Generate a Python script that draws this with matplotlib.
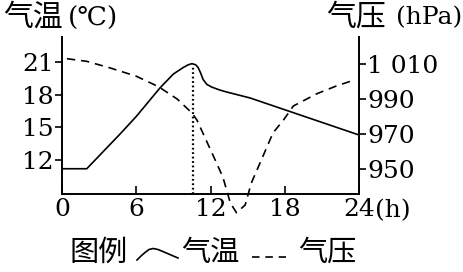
import matplotlib
import matplotlib.pyplot as plt
from matplotlib.lines import Line2D

matplotlib.use('Agg')

# temperature (left axis, deg C)
temp_hours = [0, 2, 4.7, 6, 7.9, 9, 9.8, 10.2, 10.5, 10.8, 11.0, 11.2, 11.4, 11.7, 12.1, 12.7, 13.3, 15.2, 24]
temp_vals = [11.2, 11.2, 14.4, 16.0, 18.6, 19.9, 20.5, 20.75, 20.85, 20.75, 20.5, 20.0, 19.4, 18.95, 18.7, 18.45, 18.25, 17.7, 14.3]

# pressure (right axis, hPa)
pres_hours = [0.4, 2.0, 3.9, 6.0, 7.8, 9.3, 10.5, 10.9, 12.0, 13.0, 13.6, 14.1, 14.8, 15.3, 16.1, 17.05, 17.9, 18.7, 20.6, 22.2, 23.7]
pres_vals = [1013, 1011.5, 1007.7, 1003, 997, 990, 982, 978, 961, 945.4, 930.6, 925, 929.4, 942, 955, 970.6, 978, 986, 993, 997.5, 1001]

peak_hour = 10.6

x_ticks = [0, 6, 12, 18, 24]
temp_ticks = [12, 15, 18, 21]
pres_ticks = [950, 970, 990, 1010]
pres_labels = ['950', '970', '990', '1 010']

W, H = 463, 272
serif = 'DejaVu Serif'
cjk = ['Noto Sans CJK SC', 'DejaVu Sans']


def fx(px):
    return px / W


def fy(py):
    return 1 - py / H


fig = plt.figure(figsize=(W / 100, H / 100), dpi=100)
ax = fig.add_axes([fx(62), fy(194), (359 - 62) / W, (194 - 37) / H])
ax.set_xlim(0, 24)
ax.set_ylim(8.88, 23.3)
ax2 = ax.twinx()
ax2.set_ylim(935.7, 1025.4)

for a in (ax, ax2):
    a.spines['top'].set_visible(False)
    for s in a.spines.values():
        s.set_linewidth(1.4)
ax.spines['right'].set_visible(False)
ax2.spines['left'].set_visible(False)
ax2.spines['bottom'].set_visible(False)

ax.plot(temp_hours, temp_vals, color='black', lw=1.2, solid_joinstyle='round')
ax.plot([peak_hour, peak_hour], [8.88, 20.6], color='black', lw=1.6, linestyle=(0, (0.8, 1.2)))
ax2.plot(pres_hours, pres_vals, color='black', lw=1.2, linestyle=(0, (5, 3.5)), clip_on=False)

ax.set_xticks(x_ticks)
ax.set_xticklabels([str(v) for v in x_ticks], fontfamily=serif, fontsize=18)
ax.tick_params(axis='x', direction='in', length=6, width=1.2, pad=3)
ax.set_yticks(temp_ticks)
ax.set_yticklabels([str(v) for v in temp_ticks], fontfamily=serif, fontsize=18)
ax.tick_params(axis='y', direction='out', length=5, width=1.2, pad=1)
ax2.set_yticks(pres_ticks)
ax2.set_yticklabels(pres_labels, fontfamily=serif, fontsize=18)
ax2.tick_params(axis='y', direction='out', length=5, width=1.2, pad=1)

fig.text(fx(375), fy(211), '(h)', fontfamily=serif, fontsize=18, ha='left', va='center')

# axis titles
fig.text(fx(3), fy(17), '气温', family=cjk, fontsize=21.5, ha='left', va='center')
fig.text(fx(68), fy(18), '(℃)', family=[serif, 'Noto Sans CJK SC'], fontsize=19, ha='left', va='center')
fig.text(fx(326), fy(17), '气压', family=cjk, fontsize=21.5, ha='left', va='center')
fig.text(fx(462), fy(18), '(hPa)', fontfamily=serif, fontsize=18, ha='right', va='center')

# legend
fig.text(fx(70), fy(253), '图例', family=cjk, fontsize=21, ha='left', va='center')
arc_x = [137, 141, 145, 149, 153, 158, 164, 171, 178]
arc_y = [260, 256, 252.5, 249.5, 248.5, 249.5, 252, 255, 258]
fig.add_artist(Line2D([fx(v) for v in arc_x], [fy(v) for v in arc_y], color='black', lw=1.2))
fig.text(fx(181), fy(253), '气温', family=cjk, fontsize=21, ha='left', va='center')
fig.add_artist(Line2D([fx(252), fx(286)], [fy(257), fy(257)], color='black', lw=1.2, linestyle=(0, (4.5, 3.5))))
fig.text(fx(298), fy(253), '气压', family=cjk, fontsize=21, ha='left', va='center')

fig.savefig('out.png', dpi=100)
